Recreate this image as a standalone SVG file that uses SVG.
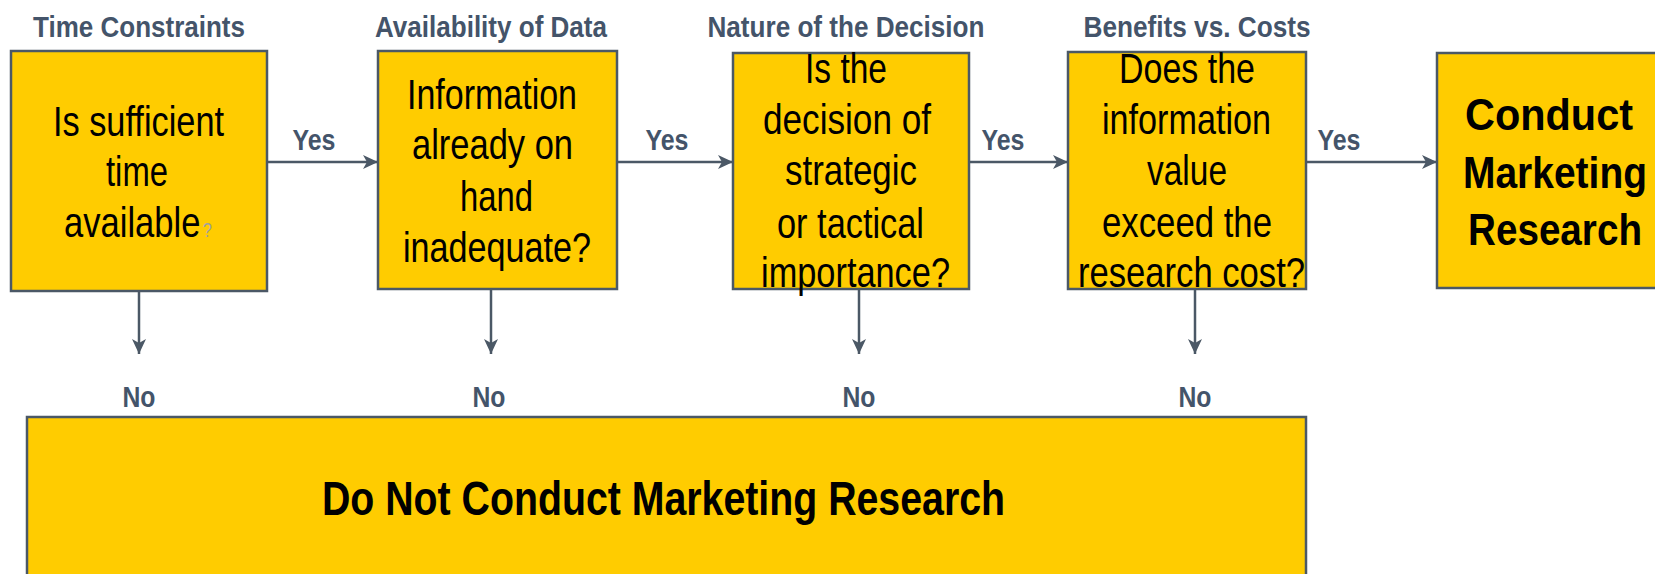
<svg xmlns="http://www.w3.org/2000/svg" width="1655" height="574" viewBox="0 0 1655 574">
<style>
.box{fill:#FFCC00;stroke:#4B5866;stroke-width:2.5}
.q{font-family:"Liberation Sans Narrow","Liberation Sans",Arial,sans-serif;font-size:42px;fill:#000;text-anchor:middle}
.b{font-family:"Liberation Sans Narrow","Liberation Sans",Arial,sans-serif;font-weight:bold;fill:#000;text-anchor:middle}
.lbl{font-family:"Liberation Sans Narrow","Liberation Sans",Arial,sans-serif;font-weight:bold;fill:#44546A;text-anchor:middle}
.hd{font-size:29px}
.yn{font-size:30px}
.conn line{stroke:#4B5866;stroke-width:2.5;marker-end:url(#ah)}
</style>
<defs>
<marker id="ah" markerUnits="userSpaceOnUse" viewBox="0 -8 16 16" markerWidth="16" markerHeight="16" refX="15" refY="0" orient="auto">
<path d="M0,-7 L15,0 L0,7 L4,0 Z" fill="#4B5866"/>
</marker>
</defs>
<rect width="1655" height="574" fill="#fff"/>

<g id="headers">
<text class="lbl hd" x="139" y="37" textLength="212" lengthAdjust="spacingAndGlyphs">Time Constraints</text>
<text class="lbl hd" x="491" y="37" textLength="232" lengthAdjust="spacingAndGlyphs">Availability of Data</text>
<text class="lbl hd" x="846" y="37" textLength="277" lengthAdjust="spacingAndGlyphs">Nature of the Decision</text>
<text class="lbl hd" x="1197" y="37" textLength="227" lengthAdjust="spacingAndGlyphs">Benefits vs. Costs</text>
</g>

<g id="conn" class="conn">
<line x1="267" y1="162" x2="378" y2="162"/>
<line x1="617" y1="162" x2="733" y2="162"/>
<line x1="969" y1="162" x2="1068" y2="162"/>
<line x1="1306" y1="162" x2="1437" y2="162"/>
<line x1="139" y1="291" x2="139" y2="354"/>
<line x1="491" y1="289" x2="491" y2="354"/>
<line x1="859" y1="289" x2="859" y2="354"/>
<line x1="1195" y1="289" x2="1195" y2="354"/>
<text class="lbl yn" x="314" y="150" textLength="43" lengthAdjust="spacingAndGlyphs">Yes</text>
<text class="lbl yn" x="667" y="150" textLength="43" lengthAdjust="spacingAndGlyphs">Yes</text>
<text class="lbl yn" x="1003" y="150" textLength="43" lengthAdjust="spacingAndGlyphs">Yes</text>
<text class="lbl yn" x="1339" y="150" textLength="43" lengthAdjust="spacingAndGlyphs">Yes</text>
<text class="lbl yn" x="139" y="407" textLength="33" lengthAdjust="spacingAndGlyphs">No</text>
<text class="lbl yn" x="489" y="407" textLength="33" lengthAdjust="spacingAndGlyphs">No</text>
<text class="lbl yn" x="859" y="407" textLength="33" lengthAdjust="spacingAndGlyphs">No</text>
<text class="lbl yn" x="1195" y="407" textLength="33" lengthAdjust="spacingAndGlyphs">No</text>
</g>

<g id="time">
<rect class="box" x="11" y="51" width="256" height="240"/>
<text class="q" x="138.5" y="136" textLength="171" lengthAdjust="spacingAndGlyphs">Is sufficient</text>
<text class="q" x="137" y="186" textLength="62" lengthAdjust="spacingAndGlyphs">time</text>
<text class="q" x="64" y="237" style="text-anchor:start" textLength="148" lengthAdjust="spacingAndGlyphs">available<tspan font-size="20" fill="#A0A0A0" dx="3">?</tspan></text>
</g>

<g id="data">
<rect class="box" x="378" y="51" width="239" height="238"/>
<text class="q" x="492" y="109" textLength="170" lengthAdjust="spacingAndGlyphs">Information</text>
<text class="q" x="492.5" y="159" textLength="161" lengthAdjust="spacingAndGlyphs">already on</text>
<text class="q" x="496.5" y="211" textLength="73" lengthAdjust="spacingAndGlyphs">hand</text>
<text class="q" x="497" y="262" textLength="188" lengthAdjust="spacingAndGlyphs">inadequate?</text>
</g>

<g id="decision">
<rect class="box" x="733" y="53" width="236" height="236"/>
<text class="q" x="846" y="83" textLength="82" lengthAdjust="spacingAndGlyphs">Is the</text>
<text class="q" x="847" y="134" textLength="168" lengthAdjust="spacingAndGlyphs">decision of</text>
<text class="q" x="851" y="185" textLength="132" lengthAdjust="spacingAndGlyphs">strategic</text>
<text class="q" x="850.5" y="238" textLength="147" lengthAdjust="spacingAndGlyphs">or tactical</text>
<text class="q" x="855.5" y="287" textLength="189" lengthAdjust="spacingAndGlyphs">importance?</text>
</g>

<g id="benefits">
<rect class="box" x="1068" y="52" width="238" height="237"/>
<text class="q" x="1187" y="83" textLength="136" lengthAdjust="spacingAndGlyphs">Does the</text>
<text class="q" x="1186.5" y="134" textLength="169" lengthAdjust="spacingAndGlyphs">information</text>
<text class="q" x="1187" y="185" textLength="80" lengthAdjust="spacingAndGlyphs">value</text>
<text class="q" x="1187" y="237" textLength="170" lengthAdjust="spacingAndGlyphs">exceed the</text>
<text class="q" x="1191.5" y="287" textLength="227" lengthAdjust="spacingAndGlyphs">research cost?</text>
</g>

<g id="conduct">
<rect class="box" x="1437" y="53" width="240" height="235"/>
<text class="b" font-size="45" x="1549" y="130" textLength="168" lengthAdjust="spacingAndGlyphs">Conduct</text>
<text class="b" font-size="45" x="1555" y="188" textLength="184" lengthAdjust="spacingAndGlyphs">Marketing</text>
<text class="b" font-size="45" x="1555" y="245" textLength="174" lengthAdjust="spacingAndGlyphs">Research</text>
</g>

<g id="donot">
<rect class="box" x="27" y="417" width="1279" height="200"/>
<text class="b" font-size="48" x="663.5" y="515" textLength="683" lengthAdjust="spacingAndGlyphs">Do Not Conduct Marketing Research</text>
</g>
</svg>
